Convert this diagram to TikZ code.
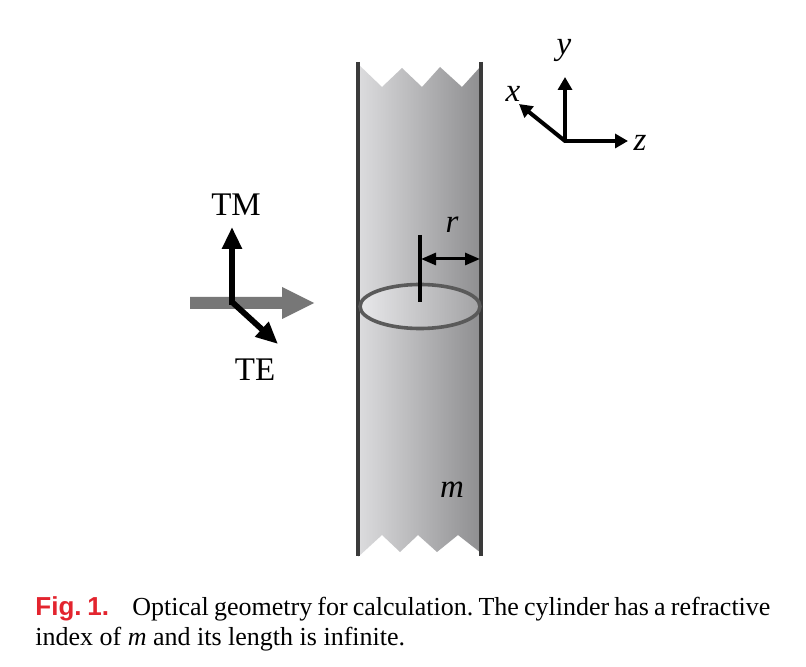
\documentclass[tikz,border=0pt]{standalone}
\usepackage{fontspec}
\setmainfont{Liberation Serif}
\newfontfamily\capsans{Liberation Sans}
\usetikzlibrary{arrows.meta}
\definecolor{cylline}{HTML}{3A3A3A}
\definecolor{ellcol}{HTML}{5A5A5A}
\definecolor{incol}{HTML}{777777}
\definecolor{cylL}{HTML}{DCDCDE}
\definecolor{cylR}{HTML}{8E8E90}
\definecolor{ellL}{HTML}{E8E8EA}
\definecolor{ellR}{HTML}{A2A2A4}
\definecolor{figred}{HTML}{E3242E}
\begin{document}
\frenchspacing
\begin{tikzpicture}[x=0.5pt,y=-0.5pt,
  lbl/.style={font=\fontsize{16.5}{19}\selectfont, inner sep=0pt},
  axisarrow/.style={line width=2pt, -{Triangle[length=6.5pt,width=7pt]}},
  polarrow/.style={line width=2.9pt, -{Triangle[length=11pt,width=9.5pt]}},
  rarrow/.style={line width=1.5pt, {Triangle[length=7.5pt,width=6pt]}-{Triangle[length=7.5pt,width=6pt]}},
  wall/.style={line width=2pt, draw=cylline}]
\fill[white] (0,0) rectangle (806,667);
\useasboundingbox (0,0) rectangle (806,667);

% cylinder body
\shade[left color=cylL, right color=cylR]
  (358,64) -- (382,87) -- (402,68) -- (422,87) -- (440,67) -- (462,87) -- (481,66)
  -- (481,553) -- (458,535) -- (437,552) -- (418,535) -- (400,552) -- (382,535) -- (358,557) -- cycle;
\coordinate (lt) at (358,62); \coordinate (lb) at (358,556);
\coordinate (rt) at (481,62); \coordinate (rb) at (481,556);
\draw[wall] (lt) -- (lb);
\draw[wall] (rt) -- (rb);

% cross-section ellipse
\shade[left color=ellL, right color=ellR] (420,306.5) ellipse [x radius=60, y radius=22];
\draw[line width=1.8pt, draw=ellcol] (420,306.5) ellipse [x radius=60, y radius=22];

% radius
\coordinate (tk1) at (420,235); \coordinate (tk2) at (420,302);
\draw[line width=1.6pt] (tk1) -- (tk2);
\coordinate (rl) at (421,259); \coordinate (rr) at (480,259);
\draw[rarrow] (rl) -- (rr);
\node[lbl] (rlab) at (452,225) {\textit{r}};
\node[lbl] (mlab) at (452,490) {\textit{m}};

% incident beam
\fill[incol] (190,297) -- (282,297) -- (282,287) -- (314,303) -- (282,319) -- (282,309) -- (190,309) -- cycle;

% polarisation
\coordinate (po) at (232,305);
\coordinate (tm) at (232,227);
\coordinate (te) at (278,344);
\draw[polarrow] (po) -- (tm);
\draw[polarrow] (232,302) -- (te);
\node[lbl] (tmlab) at (236,205) {TM};
\node[lbl] (telab) at (255,370) {TE};

% axes
\coordinate (ao) at (565,141);
\coordinate (ay) at (565,77);
\coordinate (az) at (628,141);
\coordinate (ax) at (519,104);
\draw[axisarrow] (565,142) -- (ay);
\draw[axisarrow] (564,141) -- (az);
\draw[axisarrow] (ao) -- (ax);
\node[lbl] (ylab) at (564,50) {\textit{y}};
\node[lbl] (xlab) at (513,94) {\textit{x}};
\node[lbl] (zlab) at (640,143) {\textit{z}};

% caption
\node[anchor=north west, inner sep=0pt, text width=367.5pt, align=justify,
      font=\fontsize{13}{15}\selectfont] (cap) at (35,596)
  {{\capsans\bfseries\color{figred}Fig.~1.}\hskip 0.9em Optical geometry for calculation. The cylinder has a refractive index of \textit{m} and its length is infinite.};
\end{tikzpicture}
\end{document}
